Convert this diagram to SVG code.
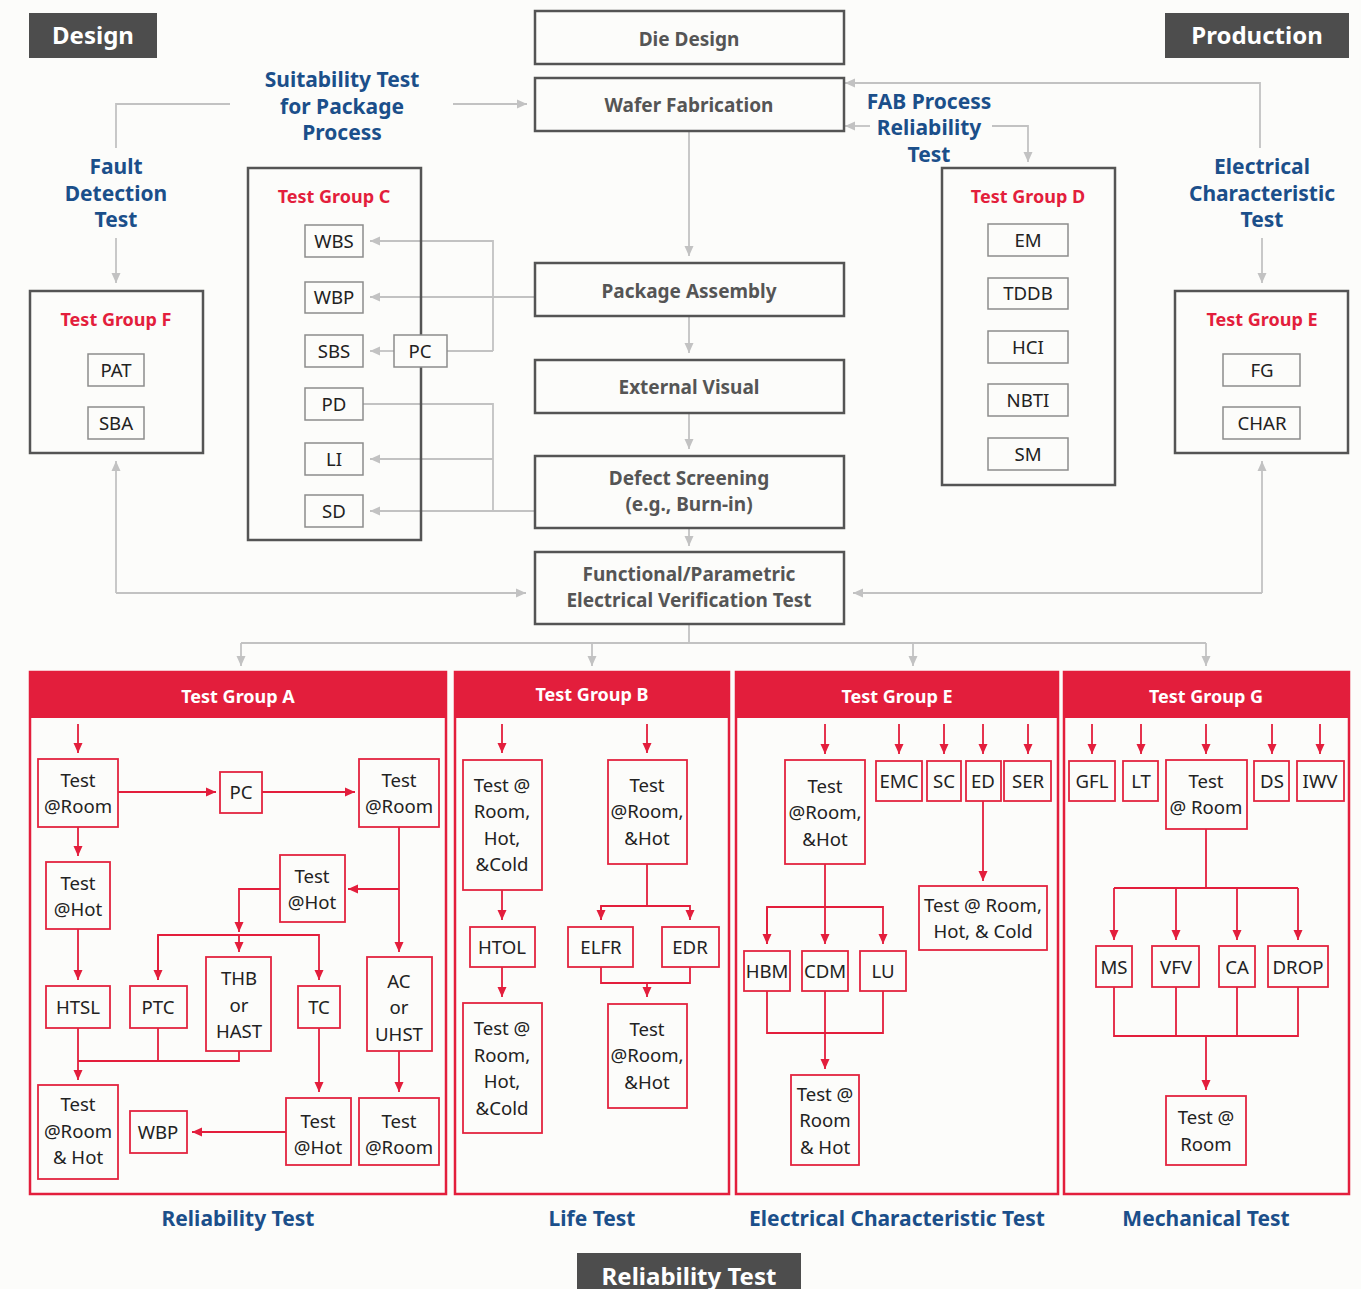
<svg xmlns="http://www.w3.org/2000/svg" width="1361" height="1289" viewBox="0 0 1361 1289">
<style>
.bg{fill:#fcfcfa}
.fb{fill:#fcfcfa;stroke:#545454;stroke-width:2.5}
.ft{font-family:"Noto Sans","Liberation Sans",sans-serif;font-weight:bold;font-size:19px;fill:#555;text-anchor:middle}
.grp{fill:none;stroke:#545454;stroke-width:2.5}
.sm{fill:#fcfcfa;stroke:#8c8c8c;stroke-width:1.5}
.st{font-family:"Noto Sans","Liberation Sans",sans-serif;font-size:18.6px;fill:#222;text-anchor:middle}
.rt{font-family:"Noto Sans","Liberation Sans",sans-serif;font-weight:bold;font-size:18px;fill:#e31e3c;text-anchor:middle}
.bt{font-family:"Noto Sans","Liberation Sans",sans-serif;font-weight:bold;font-size:21px;fill:#1b4f8a;text-anchor:middle}
.wt{font-family:"Noto Sans","Liberation Sans",sans-serif;font-weight:bold;font-size:18px;fill:#fff;text-anchor:middle}
.dk{fill:#4d4d4d}
.dt{font-family:"Noto Sans","Liberation Sans",sans-serif;font-weight:bold;font-size:24px;fill:#fff;text-anchor:middle}
.g{fill:none;stroke:#c2c2c2;stroke-width:1.8}
.r{fill:none;stroke:#e31e3c;stroke-width:1.8}
.pb{fill:#fcfcfa;stroke:#e3243f;stroke-width:1.8}
.panel{fill:none;stroke:#e31e3c;stroke-width:2.5}
.hdr{fill:#e31e3c}
</style>
<defs>
<marker id="ag" markerUnits="userSpaceOnUse" markerWidth="10" markerHeight="10" viewBox="0 0 10 10" refX="10" refY="5" orient="auto"><path d="M0,0.5 L10,5 L0,9.5 z" fill="#c2c2c2"/></marker>
<marker id="ar" markerUnits="userSpaceOnUse" markerWidth="10" markerHeight="10" viewBox="0 0 10 10" refX="10" refY="5" orient="auto"><path d="M0,0.5 L10,5 L0,9.5 z" fill="#e31e3c"/></marker>
</defs>
<rect class="bg" x="0" y="0" width="1361" height="1289"/>

<g id="connectors">
<path class="g" d="M230,104 H116 V148"/>
<path class="g" d="M453,104 H527" marker-end="url(#ag)"/>
<path class="g" d="M116,238 V283" marker-end="url(#ag)"/>
<path class="g" d="M1262,238 V283" marker-end="url(#ag)"/>
<path class="g" d="M1260,148 V83 H845" marker-end="url(#ag)"/>
<path class="g" d="M870,126 H845" marker-end="url(#ag)"/>
<path class="g" d="M992,126 H1028 V162" marker-end="url(#ag)"/>
<path class="g" d="M689,131 V256" marker-end="url(#ag)"/>
<path class="g" d="M689,316 V353" marker-end="url(#ag)"/>
<path class="g" d="M689,413 V449" marker-end="url(#ag)"/>
<path class="g" d="M689,528 V546" marker-end="url(#ag)"/>
<path class="g" d="M689,624 V643"/>
<path class="g" d="M241,643 H1206"/>
<path class="g" d="M241,643 V666" marker-end="url(#ag)"/>
<path class="g" d="M592,643 V666" marker-end="url(#ag)"/>
<path class="g" d="M913,643 V666" marker-end="url(#ag)"/>
<path class="g" d="M1206,643 V666" marker-end="url(#ag)"/>
<path class="g" d="M116,593 H526" marker-end="url(#ag)"/>
<path class="g" d="M116,593 V461" marker-end="url(#ag)"/>
<path class="g" d="M1262,593 H853" marker-end="url(#ag)"/>
<path class="g" d="M1262,593 V461" marker-end="url(#ag)"/>
<path class="g" d="M493,351 V241 H370" marker-end="url(#ag)"/>
<path class="g" d="M535,297 H370" marker-end="url(#ag)"/>
<path class="g" d="M447,351 H493"/>
<path class="g" d="M394,351 H370" marker-end="url(#ag)"/>
<path class="g" d="M363,404 H493 V511"/>
<path class="g" d="M493,459 H370" marker-end="url(#ag)"/>
<path class="g" d="M535,511 H370" marker-end="url(#ag)"/>

<path class="r" d="M78,724 V753" marker-end="url(#ar)"/>
<path class="r" d="M118,792 H216" marker-end="url(#ar)"/>
<path class="r" d="M262,792 H355" marker-end="url(#ar)"/>
<path class="r" d="M78,827 V856" marker-end="url(#ar)"/>
<path class="r" d="M399,827 V952" marker-end="url(#ar)"/>
<path class="r" d="M399,889 H348" marker-end="url(#ar)"/>
<path class="r" d="M280,889 H239 V932" marker-end="url(#ar)"/>
<path class="r" d="M158,980 V935 H319 V980" marker-end="url(#ar)"/>
<path class="r" d="M158,935 V980" marker-end="url(#ar)"/>
<path class="r" d="M239,935 V952" marker-end="url(#ar)"/>
<path class="r" d="M78,929 V980" marker-end="url(#ar)"/>
<path class="r" d="M78,1028 V1080" marker-end="url(#ar)"/>
<path class="r" d="M158,1028 V1061"/>
<path class="r" d="M239,1051 V1061 H78"/>
<path class="r" d="M319,1028 V1092" marker-end="url(#ar)"/>
<path class="r" d="M399,1051 V1092" marker-end="url(#ar)"/>
<path class="r" d="M286,1132 H192" marker-end="url(#ar)"/>

<path class="r" d="M502,724 V753" marker-end="url(#ar)"/>
<path class="r" d="M647,724 V753" marker-end="url(#ar)"/>
<path class="r" d="M502,890 V920" marker-end="url(#ar)"/>
<path class="r" d="M502,967 V997" marker-end="url(#ar)"/>
<path class="r" d="M647,864 V906"/>
<path class="r" d="M601,920 V906 H690 V920" marker-end="url(#ar)"/>
<path class="r" d="M601,906 V920" marker-end="url(#ar)"/>
<path class="r" d="M601,967 V983 H690 V967"/>
<path class="r" d="M647,983 V997" marker-end="url(#ar)"/>

<path class="r" d="M825,724 V754" marker-end="url(#ar)"/>
<path class="r" d="M899,724 V754" marker-end="url(#ar)"/>
<path class="r" d="M944,724 V754" marker-end="url(#ar)"/>
<path class="r" d="M983,724 V754" marker-end="url(#ar)"/>
<path class="r" d="M1028,724 V754" marker-end="url(#ar)"/>
<path class="r" d="M983,801 V881" marker-end="url(#ar)"/>
<path class="r" d="M825,864 V944" marker-end="url(#ar)"/>
<path class="r" d="M767,944 V907 H883 V944" marker-end="url(#ar)"/>
<path class="r" d="M767,907 V944" marker-end="url(#ar)"/>
<path class="r" d="M767,991 V1033 H883 V991"/>
<path class="r" d="M825,991 V1069" marker-end="url(#ar)"/>

<path class="r" d="M1092,724 V754" marker-end="url(#ar)"/>
<path class="r" d="M1141,724 V754" marker-end="url(#ar)"/>
<path class="r" d="M1206,724 V754" marker-end="url(#ar)"/>
<path class="r" d="M1272,724 V754" marker-end="url(#ar)"/>
<path class="r" d="M1320,724 V754" marker-end="url(#ar)"/>
<path class="r" d="M1206,829 V888"/>
<path class="r" d="M1114,888 H1298"/>
<path class="r" d="M1114,888 V940" marker-end="url(#ar)"/>
<path class="r" d="M1176,888 V940" marker-end="url(#ar)"/>
<path class="r" d="M1237,888 V940" marker-end="url(#ar)"/>
<path class="r" d="M1298,888 V940" marker-end="url(#ar)"/>
<path class="r" d="M1114,987 V1036 H1298 V987"/>
<path class="r" d="M1176,987 V1036"/>
<path class="r" d="M1237,987 V1036"/>
<path class="r" d="M1206,1036 V1090" marker-end="url(#ar)"/>
</g>

<g id="design-label"><rect class="dk" x="29" y="13" width="128" height="45"/><text class="dt" x="93" y="44">Design</text></g>
<g id="production-label"><rect class="dk" x="1165" y="13" width="184" height="45"/><text class="dt" x="1257" y="44">Production</text></g>

<g id="die-design"><rect class="fb" x="535" y="11" width="309" height="53"/><text class="ft" x="689" y="46">Die Design</text></g>
<g id="wafer-fab"><rect class="fb" x="535" y="78" width="309" height="53"/><text class="ft" x="689" y="112">Wafer Fabrication</text></g>
<g id="package-assembly"><rect class="fb" x="535" y="263" width="309" height="53"/><text class="ft" x="689" y="298">Package Assembly</text></g>
<g id="external-visual"><rect class="fb" x="535" y="360" width="309" height="53"/><text class="ft" x="689" y="394">External Visual</text></g>
<g id="defect-screening"><rect class="fb" x="535" y="456" width="309" height="72"/><text class="ft" x="689" y="485">Defect Screening</text><text class="ft" x="689" y="511">(e.g., Burn-in)</text></g>
<g id="functional-test"><rect class="fb" x="535" y="552" width="309" height="72"/><text class="ft" x="689" y="581">Functional/Parametric</text><text class="ft" x="689" y="607">Electrical Verification Test</text></g>

<g id="label-suitability"><text class="bt" x="342" y="87">Suitability Test</text><text class="bt" x="342" y="114">for Package</text><text class="bt" x="342" y="140">Process</text></g>
<g id="label-fault"><text class="bt" x="116" y="174">Fault</text><text class="bt" x="116" y="201">Detection</text><text class="bt" x="116" y="227">Test</text></g>
<g id="label-fab"><text class="bt" x="929" y="109">FAB Process</text><text class="bt" x="929" y="135">Reliability</text><text class="bt" x="929" y="162">Test</text></g>
<g id="label-electrical"><text class="bt" x="1262" y="174">Electrical</text><text class="bt" x="1262" y="201">Characteristic</text><text class="bt" x="1262" y="227">Test</text></g>

<g id="group-c">
<rect class="grp" x="248" y="168" width="173" height="372"/>
<text class="rt" x="334" y="203">Test Group C</text>
<rect class="sm" x="305" y="225" width="58" height="32"/><text class="st" x="334" y="248">WBS</text>
<rect class="sm" x="305" y="282" width="58" height="31"/><text class="st" x="334" y="304">WBP</text>
<rect class="sm" x="305" y="335" width="58" height="32"/><text class="st" x="334" y="358">SBS</text>
<rect class="sm" x="305" y="388" width="58" height="32"/><text class="st" x="334" y="411">PD</text>
<rect class="sm" x="305" y="443" width="58" height="32"/><text class="st" x="334" y="466">LI</text>
<rect class="sm" x="305" y="495" width="58" height="32"/><text class="st" x="334" y="518">SD</text>
</g>
<g id="pc-top"><rect class="sm" x="394" y="335" width="53" height="32"/><text class="st" x="420" y="358">PC</text></g>

<g id="group-f">
<rect class="grp" x="30" y="291" width="173" height="162"/>
<text class="rt" x="116" y="326">Test Group F</text>
<rect class="sm" x="88" y="354" width="56" height="32"/><text class="st" x="116" y="377">PAT</text>
<rect class="sm" x="88" y="407" width="56" height="32"/><text class="st" x="116" y="430">SBA</text>
</g>

<g id="group-d">
<rect class="grp" x="942" y="168" width="173" height="317"/>
<text class="rt" x="1028" y="203">Test Group D</text>
<rect class="sm" x="988" y="224" width="80" height="32"/><text class="st" x="1028" y="247">EM</text>
<rect class="sm" x="988" y="278" width="80" height="31"/><text class="st" x="1028" y="300">TDDB</text>
<rect class="sm" x="988" y="331" width="80" height="32"/><text class="st" x="1028" y="354">HCI</text>
<rect class="sm" x="988" y="384" width="80" height="32"/><text class="st" x="1028" y="407">NBTI</text>
<rect class="sm" x="988" y="438" width="80" height="32"/><text class="st" x="1028" y="461">SM</text>
</g>

<g id="group-e-top">
<rect class="grp" x="1175" y="291" width="173" height="162"/>
<text class="rt" x="1262" y="326">Test Group E</text>
<rect class="sm" x="1223" y="354" width="77" height="32"/><text class="st" x="1262" y="377">FG</text>
<rect class="sm" x="1223" y="407" width="77" height="32"/><text class="st" x="1262" y="430">CHAR</text>
</g>

<g id="panel-a">
<rect class="panel" x="30" y="672" width="416" height="522"/>
<rect class="hdr" x="29" y="672" width="418" height="46"/>
<text class="wt" x="238" y="703">Test Group A</text>
<rect class="pb" x="38" y="759" width="80" height="68"/><text class="st" x="78" y="787">Test</text><text class="st" x="78" y="813">@Room</text>
<rect class="pb" x="220" y="772" width="42" height="41"/><text class="st" x="241" y="799">PC</text>
<rect class="pb" x="359" y="759" width="80" height="68"/><text class="st" x="399" y="787">Test</text><text class="st" x="399" y="813">@Room</text>
<rect class="pb" x="46" y="862" width="64" height="67"/><text class="st" x="78" y="890">Test</text><text class="st" x="78" y="916">@Hot</text>
<rect class="pb" x="280" y="855" width="65" height="67"/><text class="st" x="312" y="883">Test</text><text class="st" x="312" y="909">@Hot</text>
<rect class="pb" x="46" y="986" width="64" height="42"/><text class="st" x="78" y="1014">HTSL</text>
<rect class="pb" x="130" y="986" width="57" height="42"/><text class="st" x="158" y="1014">PTC</text>
<rect class="pb" x="206" y="957" width="65" height="94"/><text class="st" x="239" y="985">THB</text><text class="st" x="239" y="1012">or</text><text class="st" x="239" y="1038">HAST</text>
<rect class="pb" x="298" y="986" width="42" height="42"/><text class="st" x="319" y="1014">TC</text>
<rect class="pb" x="367" y="957" width="65" height="94"/><text class="st" x="399" y="988">AC</text><text class="st" x="399" y="1014">or</text><text class="st" x="399" y="1041">UHST</text>
<rect class="pb" x="38" y="1085" width="80" height="94"/><text class="st" x="78" y="1111">Test</text><text class="st" x="78" y="1138">@Room</text><text class="st" x="78" y="1164">&amp; Hot</text>
<rect class="pb" x="130" y="1111" width="57" height="42"/><text class="st" x="158" y="1139">WBP</text>
<rect class="pb" x="286" y="1098" width="65" height="67"/><text class="st" x="318" y="1128">Test</text><text class="st" x="318" y="1154">@Hot</text>
<rect class="pb" x="359" y="1098" width="80" height="67"/><text class="st" x="399" y="1128">Test</text><text class="st" x="399" y="1154">@Room</text>
</g>

<g id="panel-b">
<rect class="panel" x="455" y="672" width="274" height="522"/>
<rect class="hdr" x="454" y="672" width="276" height="46"/>
<text class="wt" x="592" y="701">Test Group B</text>
<rect class="pb" x="463" y="760" width="79" height="130"/><text class="st" x="502" y="792">Test @</text><text class="st" x="502" y="818">Room,</text><text class="st" x="502" y="845">Hot,</text><text class="st" x="502" y="871">&amp;Cold</text>
<rect class="pb" x="470" y="927" width="65" height="40"/><text class="st" x="502" y="954">HTOL</text>
<rect class="pb" x="463" y="1003" width="79" height="130"/><text class="st" x="502" y="1035">Test @</text><text class="st" x="502" y="1062">Room,</text><text class="st" x="502" y="1088">Hot,</text><text class="st" x="502" y="1115">&amp;Cold</text>
<rect class="pb" x="608" y="760" width="79" height="104"/><text class="st" x="647" y="792">Test</text><text class="st" x="647" y="818">@Room,</text><text class="st" x="647" y="845">&amp;Hot</text>
<rect class="pb" x="568" y="927" width="65" height="40"/><text class="st" x="601" y="954">ELFR</text>
<rect class="pb" x="662" y="927" width="57" height="40"/><text class="st" x="690" y="954">EDR</text>
<rect class="pb" x="608" y="1004" width="79" height="104"/><text class="st" x="647" y="1036">Test</text><text class="st" x="647" y="1062">@Room,</text><text class="st" x="647" y="1089">&amp;Hot</text>
</g>

<g id="panel-e">
<rect class="panel" x="736" y="672" width="322" height="522"/>
<rect class="hdr" x="735" y="672" width="324" height="46"/>
<text class="wt" x="897" y="703">Test Group E</text>
<rect class="pb" x="785" y="760" width="80" height="104"/><text class="st" x="825" y="793">Test</text><text class="st" x="825" y="819">@Room,</text><text class="st" x="825" y="846">&amp;Hot</text>
<rect class="pb" x="876" y="761" width="46" height="40"/><text class="st" x="899" y="788">EMC</text>
<rect class="pb" x="927" y="761" width="34" height="40"/><text class="st" x="944" y="788">SC</text>
<rect class="pb" x="966" y="761" width="35" height="40"/><text class="st" x="983" y="788">ED</text>
<rect class="pb" x="1004" y="761" width="47" height="40"/><text class="st" x="1028" y="788">SER</text>
<rect class="pb" x="919" y="886" width="128" height="64"/><text class="st" x="983" y="912">Test @ Room,</text><text class="st" x="983" y="938">Hot, &amp; Cold</text>
<rect class="pb" x="744" y="951" width="46" height="40"/><text class="st" x="767" y="978">HBM</text>
<rect class="pb" x="802" y="951" width="46" height="40"/><text class="st" x="825" y="978">CDM</text>
<rect class="pb" x="860" y="951" width="46" height="40"/><text class="st" x="883" y="978">LU</text>
<rect class="pb" x="791" y="1075" width="68" height="90"/><text class="st" x="825" y="1101">Test @</text><text class="st" x="825" y="1127">Room</text><text class="st" x="825" y="1154">&amp; Hot</text>
</g>

<g id="panel-g">
<rect class="panel" x="1064" y="672" width="285" height="522"/>
<rect class="hdr" x="1063" y="672" width="287" height="46"/>
<text class="wt" x="1206" y="703">Test Group G</text>
<rect class="pb" x="1069" y="761" width="46" height="40"/><text class="st" x="1092" y="788">GFL</text>
<rect class="pb" x="1123" y="761" width="35" height="40"/><text class="st" x="1141" y="788">LT</text>
<rect class="pb" x="1166" y="760" width="81" height="69"/><text class="st" x="1206" y="788">Test</text><text class="st" x="1206" y="814">@ Room</text>
<rect class="pb" x="1254" y="761" width="35" height="40"/><text class="st" x="1272" y="788">DS</text>
<rect class="pb" x="1297" y="761" width="47" height="40"/><text class="st" x="1320" y="788">IWV</text>
<rect class="pb" x="1096" y="946" width="36" height="41"/><text class="st" x="1114" y="974">MS</text>
<rect class="pb" x="1152" y="946" width="47" height="41"/><text class="st" x="1176" y="974">VFV</text>
<rect class="pb" x="1219" y="946" width="36" height="41"/><text class="st" x="1237" y="974">CA</text>
<rect class="pb" x="1268" y="946" width="60" height="41"/><text class="st" x="1298" y="974">DROP</text>
<rect class="pb" x="1166" y="1096" width="80" height="69"/><text class="st" x="1206" y="1124">Test @</text><text class="st" x="1206" y="1151">Room</text>
</g>

<g id="panel-labels">
<text class="bt" x="238" y="1226">Reliability Test</text>
<text class="bt" x="592" y="1226">Life Test</text>
<text class="bt" x="897" y="1226">Electrical Characteristic Test</text>
<text class="bt" x="1206" y="1226">Mechanical Test</text>
</g>

<g id="reliability-label"><rect class="dk" x="577" y="1253" width="224" height="40"/><text class="dt" x="689" y="1285">Reliability Test</text></g>
</svg>
